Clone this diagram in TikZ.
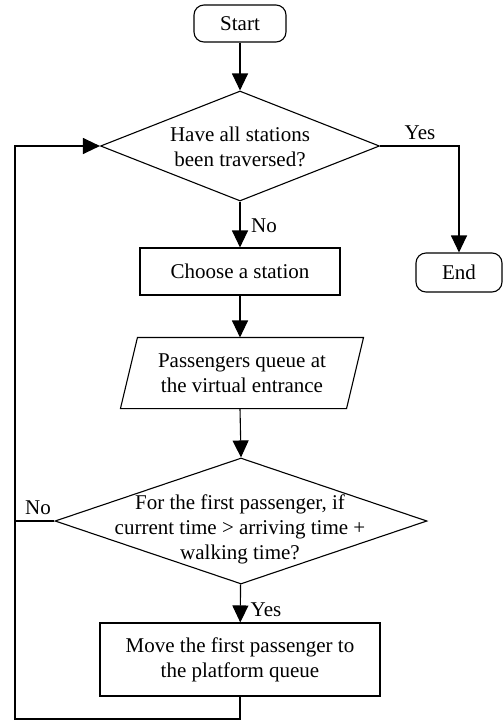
\documentclass[tikz,border=0pt]{standalone}
\usepackage{fontspec}
\setmainfont{Liberation Serif}
\usetikzlibrary{shapes.geometric,arrows.meta,calc}
\begin{document}
\begin{tikzpicture}[x=1pt,y=-1pt,
  font=\fontsize{21}{25}\selectfont,
  line width=1.1pt,
  flow/.style={-{Triangle[width=16pt,length=17pt]}},
  term/.style={draw, rounded corners=10pt, inner sep=0},
  proc/.style={draw, inner sep=0, align=center},
  dec/.style={draw, diamond, inner sep=0},
  txt/.style={align=center, inner sep=0}]
\useasboundingbox (0,0) rectangle (503,721);

% terminals
\node[term, minimum width=92pt, minimum height=37pt] (start) at (240,23.5) {Start};
\node[term, minimum width=86pt, minimum height=39pt] (end) at (459,272.5) {End};

% first decision
\node[dec, minimum width=279pt, minimum height=110pt] (d1) at (240,146) {};
\node[txt] (d1t) at (240,147) {Have all stations\\been traversed?};

% processing steps
\node[proc, minimum width=200pt, minimum height=47pt] (choose) at (240,271.5) {Choose a station};

\node[txt, minimum width=225pt, minimum height=70pt] (par) at (242,373)
  {Passengers queue at\\the virtual entrance};
\draw ($(par.north west)+(8.5,0)$) -- ($(par.north east)+(8.5,0)$)
   -- ($(par.south east)+(-8.5,0)$) -- ($(par.south west)+(-8.5,0)$) -- cycle;

% second decision
\node[dec, minimum width=372pt, minimum height=126pt] (d2) at (241,521) {};
\node[txt] (d2t) at (240,529) {For the first passenger, if\\current time > arriving time +\\walking time?};

\node[proc, minimum width=280pt, minimum height=73pt] (move) at (240,659.5)
  {Move the first passenger to\\the platform queue};

% loop corner
\coordinate (lb) at (15,719);

% connectors
\draw[flow] (start) -- (d1);
\draw[flow] (d1) -- (choose);
\draw[flow] (choose.south) -- (choose.south |- par.north);
\draw[flow] (choose.south |- par.south) -- (d2.north);
\draw[flow] (d2) -- (move);
\draw[flow] (d1.east) -| (end.north);
\draw (d2.west) -- (d2.west -| lb);
\draw[flow] (move.south) |- (lb) |- (d1.west);

% branch labels
\node (ly1) at (420,133) {Yes};
\node (ln1) at (264,226) {No};
\node (ln2) at (38,508) {No};
\node (ly2) at (266,610) {Yes};
\end{tikzpicture}
\end{document}
